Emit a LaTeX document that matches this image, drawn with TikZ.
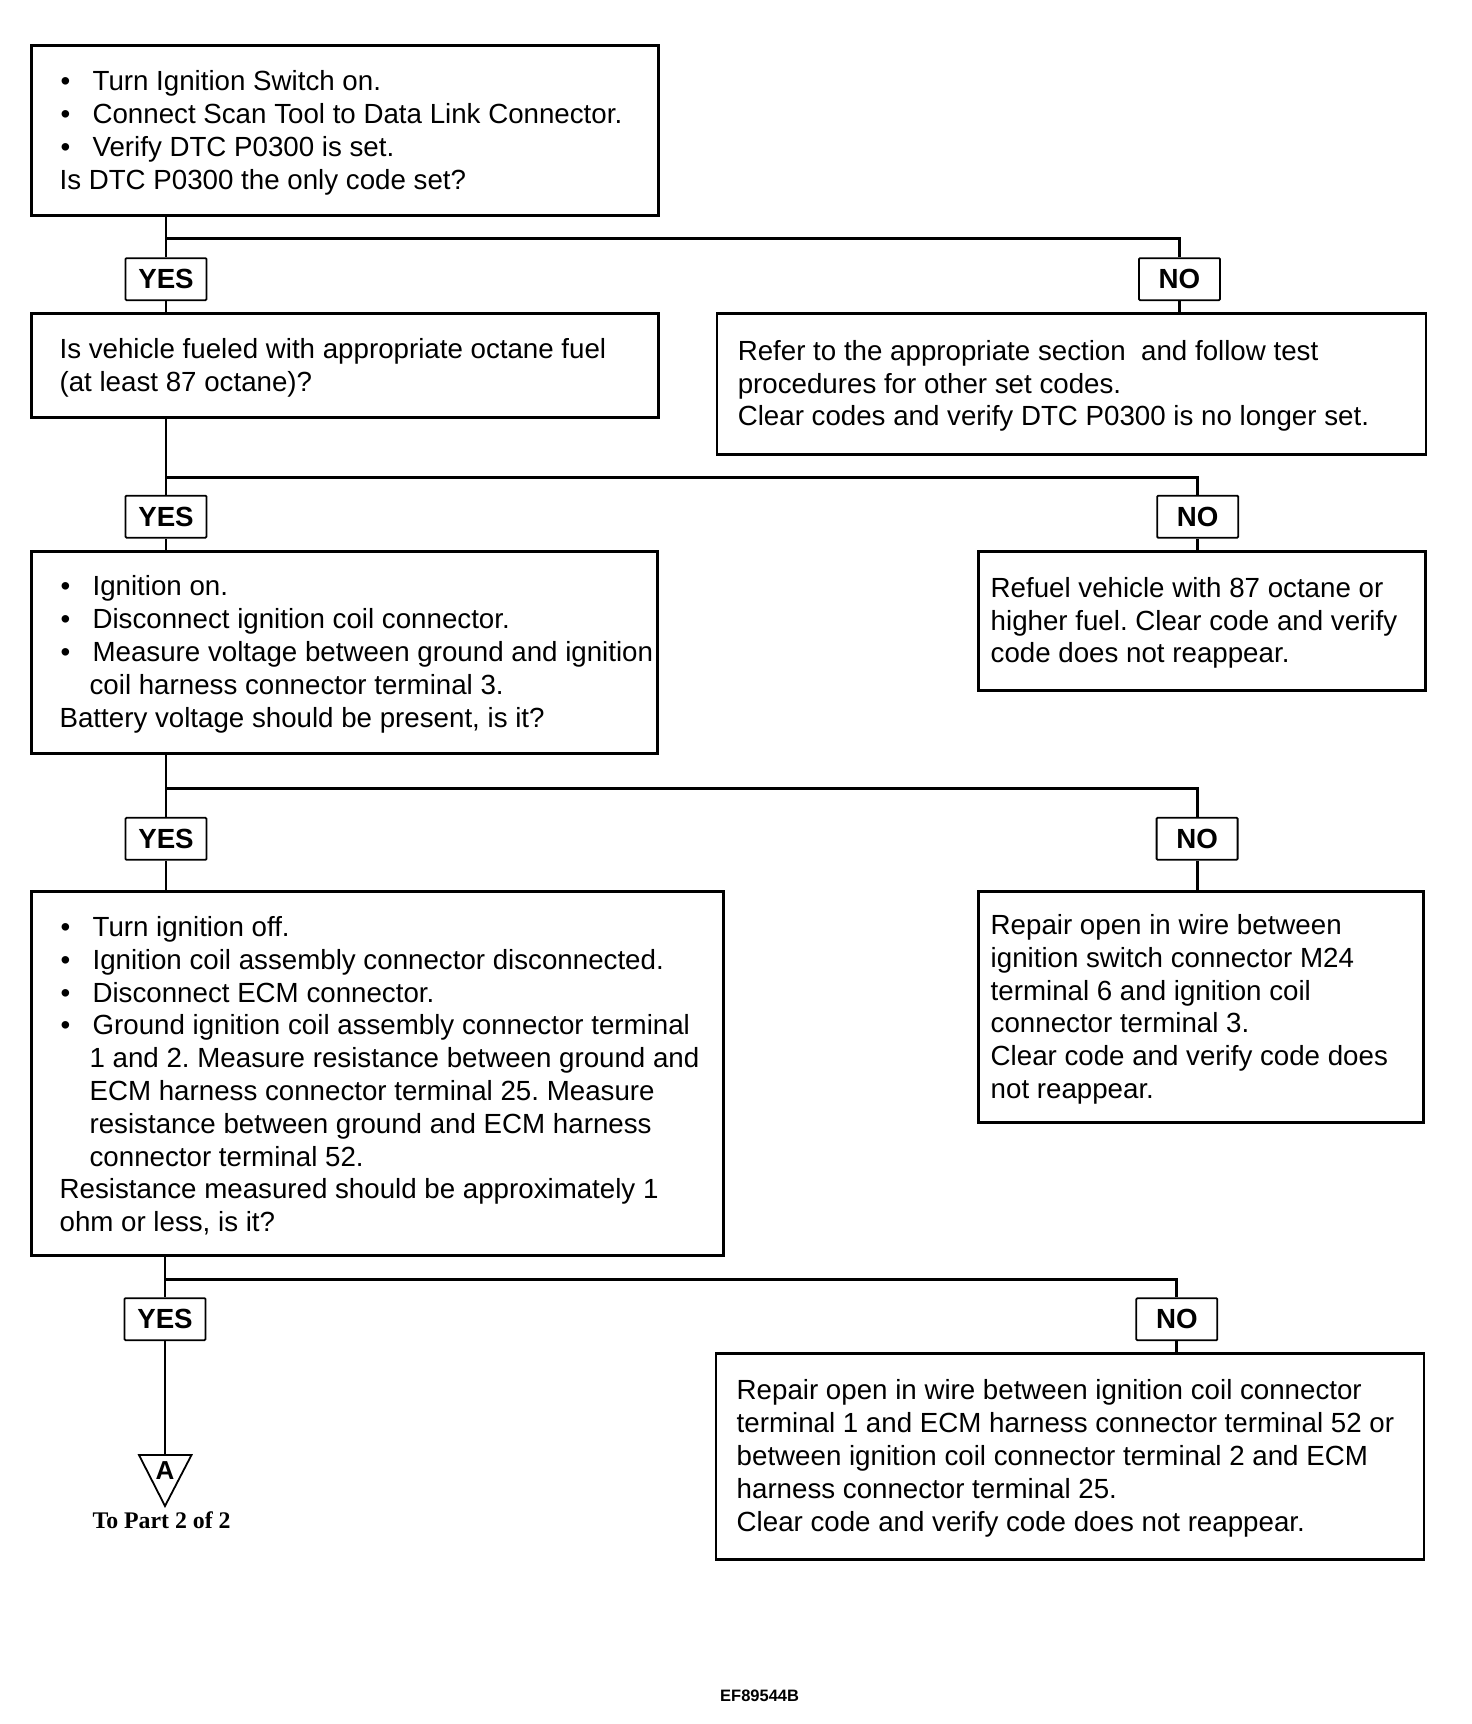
\documentclass[tikz,border=0pt]{standalone}
\usepackage{fontspec}
\setmainfont{Liberation Sans}
\newfontfamily\serifb{Liberation Serif}
\newcommand\bitem[1]{\hspace*{1pt}\makebox[32pt][l]{\textbullet}#1}
\newcommand\cont[1]{\hspace*{30pt}#1}
\frenchspacing
\begin{document}
\begin{tikzpicture}[x=1pt,y=-1pt,
  box/.style={draw,line width=2.8pt,anchor=north west,inner sep=0pt},
  txt/.style={anchor=west,align=left,inner sep=0pt,yshift=-3.5pt,font=\frenchspacing\fontsize{27.7}{32.8}\selectfont},
  lab/.style={draw,line width=1.8pt,minimum width=81pt,minimum height=42pt,inner sep=0pt,rounded corners=1pt,font=\fontsize{27.7}{32.8}\selectfont\bfseries},
  wire/.style={line width=2.8pt}]
\useasboundingbox (0,0) rectangle (1472,1724);
% boxes
\node[box,minimum width=627pt,minimum height=170pt] (b1) at (30,44) {};
\node[box,minimum width=627pt,minimum height=104pt] (b2) at (30,312.2) {};
\node[box,minimum width=709pt,minimum height=141pt] (n1) at (715.6,312.2) {};
\node[box,minimum width=626pt,minimum height=202pt] (b3) at (30,549.7) {};
\node[box,minimum width=447pt,minimum height=139.6pt] (n2) at (977.3,549.7) {};
\node[box,minimum width=692pt,minimum height=364pt] (b4) at (30,890.4) {};
\node[box,minimum width=445pt,minimum height=231pt] (n3) at (977.3,890.4) {};
\node[box,minimum width=708pt,minimum height=205.6pt] (n4) at (714.5,1352.1) {};
% texts
\node[txt] (t1) at (59.4,129.2) {\bitem{Turn Ignition Switch on.}\\
\bitem{Connect Scan Tool to Data Link Connector.}\\
\bitem{Verify DTC P0300 is set.}\\
Is DTC P0300 the only code set?};
\node[txt] (t2) at (59.4,364.4) {Is vehicle fueled with appropriate octane fuel\\
(at least 87 octane)?};
\node[txt] (tn1) at (737.6,382.5) {Refer to the appropriate section\ \ and follow test\\
procedures for other set codes.\\
Clear codes and verify DTC P0300 is no longer set.};
\node[txt] (t3) at (59.4,650.8) {\bitem{Ignition on.}\\
\bitem{Disconnect ignition coil connector.}\\
\bitem{Measure voltage between ground and ignition}\\
\cont{coil harness connector terminal 3.}\\
Battery voltage should be present, is it?};
\node[txt] (tn2) at (990.5,619.5) {Refuel vehicle with 87 octane or\\
higher fuel. Clear code and verify\\
code does not reappear.};
\node[txt] (t4) at (59.4,1072.3) {\bitem{Turn ignition off.}\\
\bitem{Ignition coil assembly connector disconnected.}\\
\bitem{Disconnect ECM connector.}\\
\bitem{Ground ignition coil assembly connector terminal}\\
\cont{1 and 2. Measure resistance between ground and}\\
\cont{ECM harness connector terminal 25. Measure}\\
\cont{resistance between ground and ECM harness}\\
\cont{connector terminal 52.}\\
Resistance measured should be approximately 1\\
ohm or less, is it?};
\node[txt] (tn3) at (990.5,1005.8) {Repair open in wire between\\
ignition switch connector M24\\
terminal 6 and ignition coil\\
connector terminal 3.\\
Clear code and verify code does\\
not reappear.};
\node[txt] (tn4) at (736.5,1454.9) {Repair open in wire between ignition coil connector\\
terminal 1 and ECM harness connector terminal 52 or\\
between ignition coil connector terminal 2 and ECM\\
harness connector terminal 25.\\
Clear code and verify code does not reappear.};
% labels
\node[lab] (y1) at (166,279.2) {YES};
\node[lab] (l1) at (1179.5,279.2) {NO};
\node[lab] (y2) at (166,516.7) {YES};
\node[lab] (l2) at (1197.7,516.7) {NO};
\node[lab] (y3) at (166,838.8) {YES};
\node[lab] (l3) at (1197.1,838.8) {NO};
\node[lab] (y4) at (165,1319.2) {YES};
\node[lab] (l4) at (1176.8,1319.2) {NO};
% level coordinates
\coordinate (h1) at (0,238.5);
\coordinate (h2) at (0,477.1);
\coordinate (h3) at (0,788.2);
\coordinate (h4) at (0,1279.6);
% connectors
\draw[wire] (y1 |- b1.south) -- (y1.north);
\draw[wire] (y1.south) -- (y1 |- b2.north);
\draw[wire] (y1 |- h1) -| (l1.north);
\draw[wire] (l1.south) -- (l1 |- n1.north);
\draw[wire] (y2 |- b2.south) -- (y2.north);
\draw[wire] (y2.south) -- (y2 |- b3.north);
\draw[wire] (y2 |- h2) -| (l2.north);
\draw[wire] (l2.south) -- (l2 |- n2.north);
\draw[wire] (y3 |- b3.south) -- (y3.north);
\draw[wire] (y3.south) -- (y3 |- b4.north);
\draw[wire] (y3 |- h3) -| (l3.north);
\draw[wire] (l3.south) -- (l3 |- n3.north);
\draw[wire] (y4 |- b4.south) -- (y4.north);
\draw[wire] (y4 |- h4) -| (l4.north);
\draw[wire] (l4.south) -- (l4 |- n4.north);
% off-page connector
\coordinate (tri) at (165,1455);
\draw[line width=1.8pt,line join=miter] (139,1455) -- (191.5,1455) -- (165,1506) -- cycle;
\draw[wire] (y4.south) -- (tri);
\node[inner sep=0pt,font=\fontsize{26}{26}\selectfont\bfseries] (A) at (165,1471) {A};
\node[inner sep=0pt,font=\serifb\bfseries\fontsize{23.8}{24}\selectfont] (tp) at (161.6,1520.3) {To Part 2 of 2};
\node[inner sep=0pt,font=\bfseries\fontsize{16.5}{17}\selectfont] (ef) at (759.6,1696) {EF89544B};
\end{tikzpicture}
\end{document}
